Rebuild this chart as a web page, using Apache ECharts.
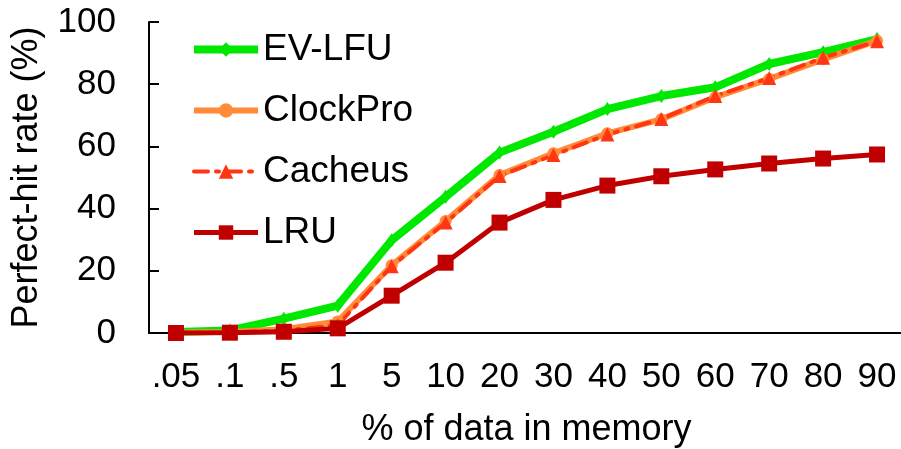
<!DOCTYPE html>
<html>
<head>
<meta charset="utf-8">
<script src="https://cdn.jsdelivr.net/npm/echarts@6/dist/echarts.min.js"></script>
<style>html,body{margin:0;padding:0;background:#fff}#c{width:901px;height:449px}</style>
</head>
<body>
<div id="c"></div>
<script>
const categories = ['.05','.1','.5','1','5','10','20','30','40','50','60','70','80','90'];
const evlfu    = [0.3, 0.8, 4.6, 8.8, 29.8, 43.8, 58.0, 64.7, 72.0, 76.2, 79.0, 86.5, 90.3, 94.5];
const clockpro = [0.2, 0.3, 1.2, 3.7, 21.8, 36.0, 50.8, 57.8, 64.2, 68.7, 75.8, 81.7, 88.0, 94.0];
const cacheus  = [0.1, 0.2, 0.8, 2.5, 21.5, 35.5, 50.5, 57.2, 63.8, 68.8, 76.2, 82.0, 88.5, 93.8];
const lru      = [0.0, 0.1, 0.4, 1.5, 12.0, 22.6, 35.5, 42.8, 47.4, 50.4, 52.6, 54.5, 56.1, 57.4];
const yTicks = [0, 20, 40, 60, 80, 100];

const FONT = 'Liberation Sans, Arial, sans-serif';
const chart = echarts.init(document.getElementById('c'), null, {renderer: 'canvas'});
chart.setOption({
  animation: false,
  backgroundColor: '#fff',
  grid: {left: 149, right: -3, top: 22, bottom: 116, containLabel: false, outerBoundsMode: 'none'},
  legend: {
    orient: 'vertical', left: 185, top: 26, itemWidth: 64, itemHeight: 18, itemGap: 24, padding: 5,
    textStyle: {fontFamily: FONT, fontSize: 37, color: '#000'},
    lineStyle: {width: 'inherit'},
    data: ['EV-LFU', 'ClockPro', 'Cacheus', 'LRU']
  },
  xAxis: [{
    type: 'category', data: categories, boundaryGap: true,
    axisLine: {lineStyle: {color: '#000', width: 2}},
    axisTick: {alignWithLabel: true, length: 8, lineStyle: {color: '#000', width: 2}},
    axisLabel: {fontFamily: FONT, fontSize: 35, color: '#000', margin: 27, interval: 0},
    name: '% of data in memory', nameLocation: 'middle', nameGap: 79,
    nameTextStyle: {fontFamily: FONT, fontSize: 36, color: '#000'}
  }, {
    type: 'category', data: categories, boundaryGap: true, position: 'bottom',
    axisLine: {show: false},
    axisTick: {alignWithLabel: true, inside: true, length: 6, lineStyle: {color: '#000', width: 2}},
    axisLabel: {show: false}
  }],
  yAxis: {
    type: 'value', min: 0, max: 100, interval: 20,
    splitLine: {show: false},
    axisLine: {show: true, lineStyle: {color: '#000', width: 2}},
    axisTick: {show: true, inside: true, length: 10, lineStyle: {color: '#000', width: 2}},
    axisLabel: {fontFamily: FONT, fontSize: 35, color: '#000', margin: 33,
      formatter: v => yTicks.includes(v) ? String(v) : ''},
    name: 'Perfect-hit rate (%)', nameLocation: 'middle', nameGap: 104,
    nameTextStyle: {fontFamily: FONT, fontSize: 36, color: '#000'}
  },
  series: [
    {name: 'EV-LFU', type: 'line', data: evlfu, symbol: 'diamond', symbolSize: [10, 14],
      lineStyle: {color: '#00e800', width: 8}, itemStyle: {color: '#00e800'}},
    {name: 'ClockPro', type: 'line', data: clockpro, symbol: 'circle', symbolSize: 12,
      lineStyle: {color: '#ff8a38', width: 6}, itemStyle: {color: '#ff8a38'}},
    {name: 'Cacheus', type: 'line', data: cacheus, symbol: 'triangle', symbolSize: 14,
      lineStyle: {color: '#ff3514', width: 4, type: [14, 8, 3, 8], cap: 'round'}, itemStyle: {color: '#ff3514'}},
    {name: 'LRU', type: 'line', data: lru, symbol: 'rect', symbolSize: 16,
      lineStyle: {color: '#c00000', width: 5}, itemStyle: {color: '#c00000'}}
  ]
});
</script>
</body>
</html>
